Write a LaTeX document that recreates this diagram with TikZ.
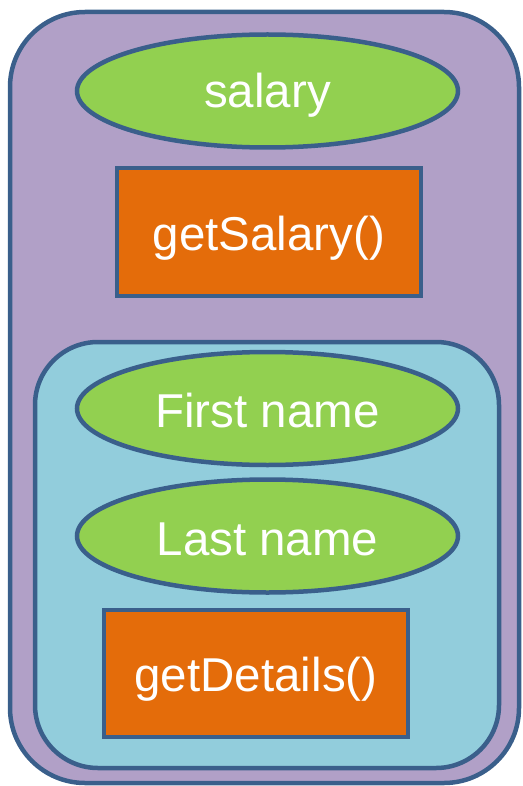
\documentclass[tikz,border=0pt]{standalone}
\usepackage{fontspec}
\setmainfont{Liberation Sans}
\usetikzlibrary{shapes.geometric}
\definecolor{edgeblue}{HTML}{3A5F8B}
\definecolor{purplefill}{HTML}{B1A0C7}
\definecolor{greenfill}{HTML}{92D050}
\definecolor{orangefill}{HTML}{E46C0A}
\definecolor{bluefill}{HTML}{92CDDC}
\newcommand{\lowertext}[2]{\raisebox{-#1}[\height][\depth]{#2}}
\tikzset{
  outline/.style={draw=edgeblue, line width=4.5pt},
  attr/.style={outline, ellipse, fill=greenfill, minimum width=381pt, minimum height=113pt, inner sep=0pt, text=white, font=\fontsize{47.5}{52}\selectfont},
  method/.style={outline, rectangle, fill=orangefill, inner sep=0pt, text=white, font=\fontsize{47.5}{52}\selectfont},
}
\begin{document}
\begin{tikzpicture}[x=1pt,y=-1pt]
\useasboundingbox (0,0) rectangle (522,786);
\draw[outline, fill=purplefill, rounded corners=75pt] (10,12) rectangle (519,783);
\node[attr] (salary) at (267.5,91) {\lowertext{4pt}{salary}};
\node[method, minimum width=304pt, minimum height=128pt] (getsal) at (269,232) {\lowertext{6pt}{getSalary()}};
\draw[outline, fill=bluefill, rounded corners=63pt] (35,342) rectangle (499,768);
\node[attr] (first) at (267.5,408.5) {\lowertext{2pt}{First name}};
\node[attr] (last) at (267.5,536) {\lowertext{3pt}{Last name}};
\node[method, minimum width=304pt, minimum height=127pt] (getdet) at (256,673.5) {\lowertext{6pt}{getDetails()}};
\end{tikzpicture}
\end{document}
